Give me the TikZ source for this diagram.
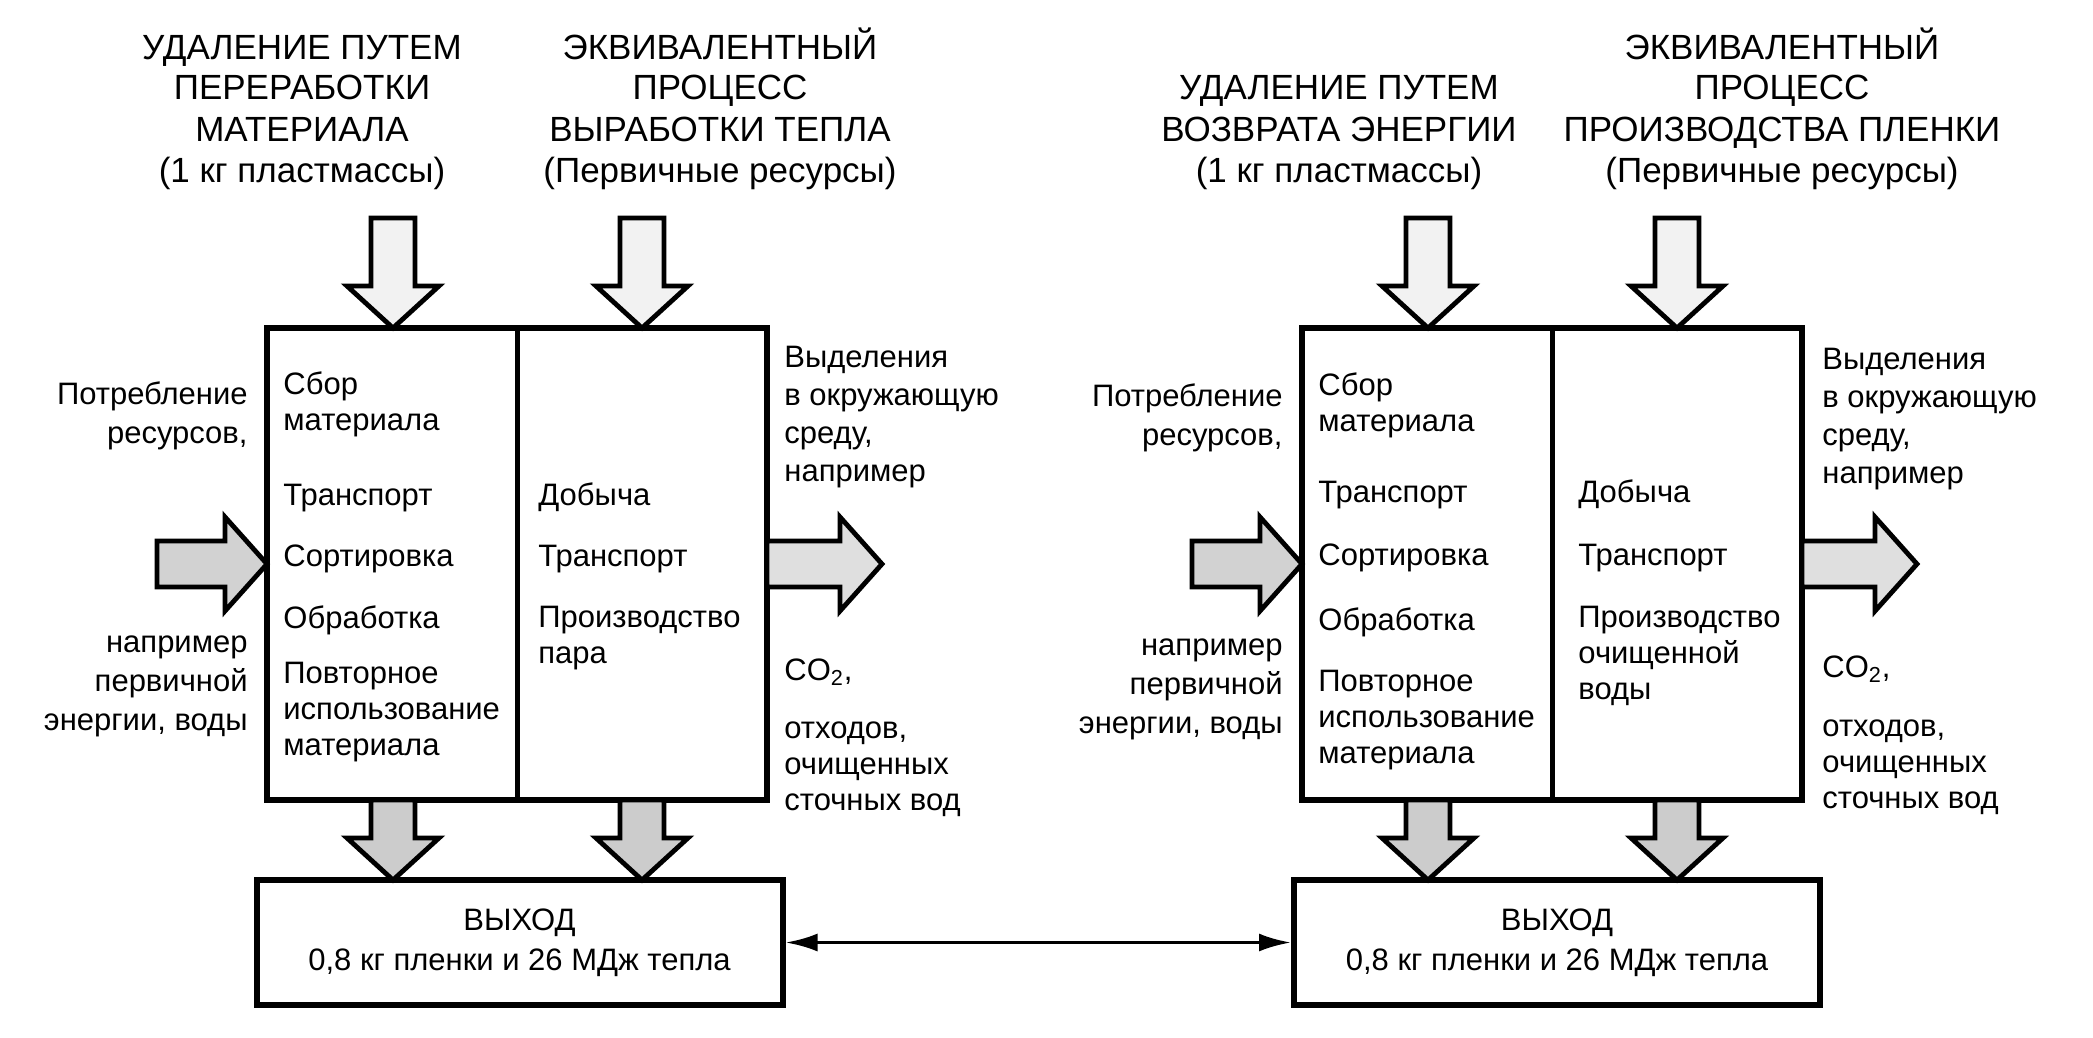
\documentclass[tikz,border=0pt]{standalone}
\usepackage{fontspec}
\setmainfont{Liberation Sans}
\usetikzlibrary{arrows.meta}

% fat block arrows: tip x/y, total length, fill
\newcommand{\fatdown}[4]{%
  \draw[fatarrow,fill=#4] (#1-22,#2-#3) -- (#1+22,#2-#3) -- (#1+22,#2-42) -- (#1+46,#2-42) -- (#1,#2) -- (#1-46,#2-42) -- (#1-22,#2-42) -- cycle;}
\newcommand{\fatright}[4]{%
  \draw[fatarrow,fill=#4] (#1-#3,#2-23) -- (#1-42,#2-23) -- (#1-42,#2-47) -- (#1,#2) -- (#1-42,#2+47) -- (#1-42,#2+23) -- (#1-#3,#2+23) -- cycle;}

\begin{document}
\begin{tikzpicture}[x=0.5pt,y=-0.5pt,
    fatarrow/.style={line width=2.4pt,line join=miter},
    procbox/.style={draw,line width=3pt,minimum width=250pt,minimum height=236pt,inner sep=0pt},
    exitbox/.style={draw,line width=3pt,minimum width=263pt,minimum height=62.5pt,align=center,
        font=\fontsize{15.5}{20}\selectfont},
    title/.style={anchor=base,align=center,inner sep=0pt,font=\fontsize{17.5}{20.5}\selectfont},
    item/.style={anchor=base west,align=left,inner sep=0pt,font=\fontsize{15.5}{18}\selectfont},
    sidel/.style={anchor=base east,align=right,inner sep=0pt,font=\fontsize{15.5}{19.5}\selectfont},
    sider/.style={anchor=base west,align=left,inner sep=0pt,font=\fontsize{15.5}{19}\selectfont}]
    \useasboundingbox (0,0) rectangle (2093,1038);
    % left panel (multi-line texts sit on the baseline of their last line)
    \node[title] (titA1) at (302,182) {УДАЛЕНИЕ ПУТЕМ\\ПЕРЕРАБОТКИ\\МАТЕРИАЛА\\(1 кг пластмассы)};
    \node[title] (titA2) at (720,182) {ЭКВИВАЛЕНТНЫЙ\\ПРОЦЕСС\\ВЫРАБОТКИ ТЕПЛА\\(Первичные ресурсы)};
    \fatdown{393}{328}{110}{gray!10}
    \fatdown{642}{328}{110}{gray!10}
    \node[procbox] (procA) at (517,564) {};
    \draw[line width=2.5pt] (procA.north) -- (procA.south);
    \node[item] (colA1) at (283,430) {Сбор\\материала};
    \node[item] (colA2) at (283,505) {Транспорт};
    \node[item] (colA3) at (283,566) {Сортировка};
    \node[item] (colA4) at (283,628) {Обработка};
    \node[item] (colA5) at (283,755) {Повторное\\использование\\материала};
    \node[item] (colA6) at (538,505) {Добыча};
    \node[item] (colA7) at (538,566) {Транспорт};
    \node[item] (colA8) at (538,663) {Производство\\пара};
    \node[sidel] (inA1) at (248,443) {Потребление\\ресурсов,};
    \node[sidel] (inA2) at (248,730) {например\\первичной\\энергии, воды};
    \node[sider] (emA1) at (784,481) {Выделения\\в окружающую\\среду,\\например};
    \node[sider] (emA2) at (784,680) {CO\textsubscript{2},};
    \node[sider,font=\fontsize{15.5}{18}\selectfont] (emA3) at (784,810) {отходов,\\очищенных\\сточных вод};
    \fatright{267}{564}{110}{gray!35}
    \fatright{882}{564}{115}{gray!25}
    \fatdown{393}{880}{80}{gray!40}
    \fatdown{642}{880}{80}{gray!40}
    \node[exitbox] (exitA) at (519.5,942.5) {ВЫХОД\\0,8 кг пленки и 26 МДж тепла};
    %
    % right panel
    \node[title] (titB1) at (1339,182) {УДАЛЕНИЕ ПУТЕМ\\ВОЗВРАТА ЭНЕРГИИ\\(1 кг пластмассы)};
    \node[title] (titB2) at (1782,182) {ЭКВИВАЛЕНТНЫЙ\\ПРОЦЕСС\\ПРОИЗВОДСТВА ПЛЕНКИ\\(Первичные ресурсы)};
    \fatdown{1428}{328}{110}{gray!10}
    \fatdown{1677}{328}{110}{gray!10}
    \node[procbox] (procB) at (1552,564) {};
    \draw[line width=2.5pt] (procB.north) -- (procB.south);
    \node[item] (colB1) at (1318,431) {Сбор\\материала};
    \node[item] (colB2) at (1318,502) {Транспорт};
    \node[item] (colB3) at (1318,565) {Сортировка};
    \node[item] (colB4) at (1318,630) {Обработка};
    \node[item] (colB5) at (1318,763) {Повторное\\использование\\материала};
    \node[item] (colB6) at (1578,502) {Добыча};
    \node[item] (colB7) at (1578,565) {Транспорт};
    \node[item] (colB8) at (1578,699) {Производство\\очищенной\\воды};
    \node[sidel] (inB1) at (1283,445) {Потребление\\ресурсов,};
    \node[sidel] (inB2) at (1283,733) {например\\первичной\\энергии, воды};
    \node[sider] (emB1) at (1822,483) {Выделения\\в окружающую\\среду,\\например};
    \node[sider] (emB2) at (1822,677) {CO\textsubscript{2},};
    \node[sider,font=\fontsize{15.5}{18}\selectfont] (emB3) at (1822,808) {отходов,\\очищенных\\сточных вод};
    \fatright{1302}{564}{110}{gray!35}
    \fatright{1917}{564}{115}{gray!25}
    \fatdown{1428}{880}{80}{gray!40}
    \fatdown{1677}{880}{80}{gray!40}
    \node[exitbox] (exitB) at (1557,942.5) {ВЫХОД\\0,8 кг пленки и 26 МДж тепла};
    %
    \draw[{Latex[length=16pt,width=9pt]}-{Latex[length=16pt,width=9pt]},line width=1.8pt] (exitA) -- (exitB);
\end{tikzpicture}
\end{document}
